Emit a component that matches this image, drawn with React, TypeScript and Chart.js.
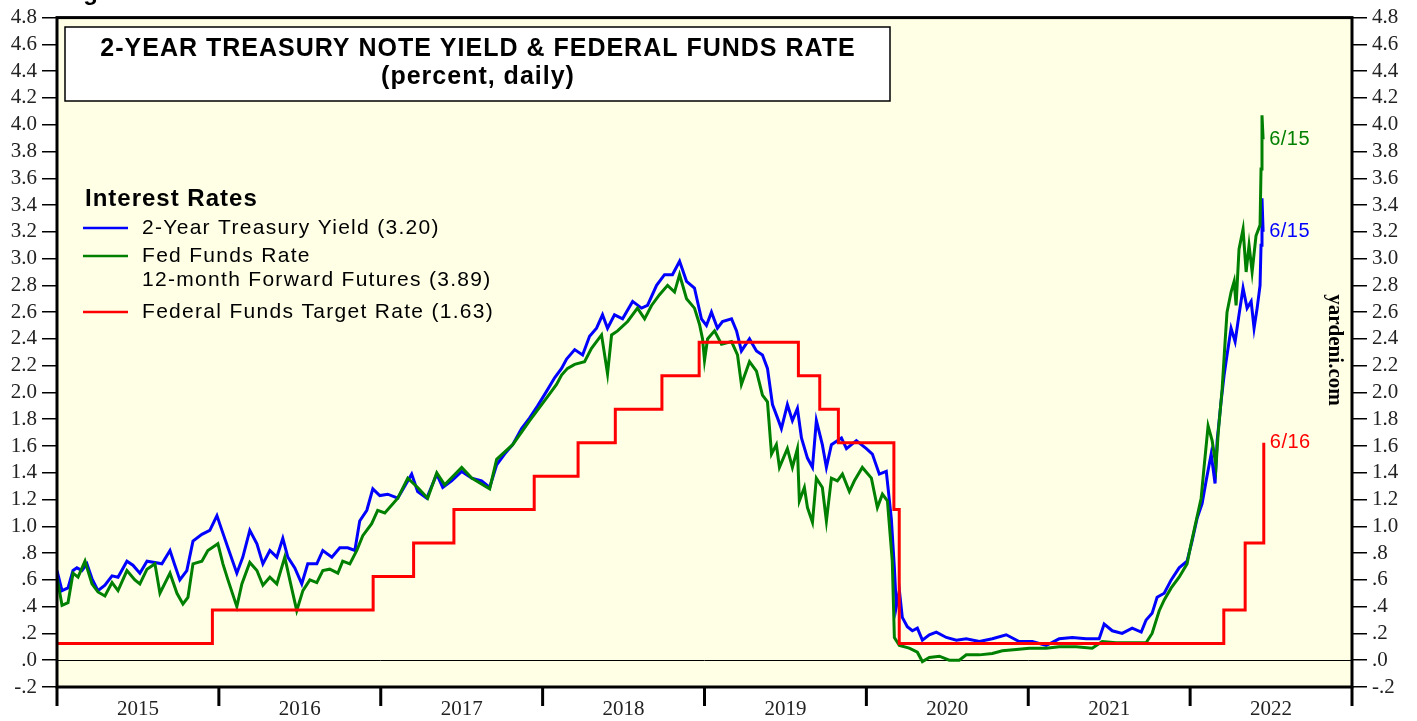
import React, { useEffect, useRef } from "react";
import { Chart, registerables } from "chart.js";

Chart.register(...registerables);

// ---------- DATA ----------
const yearLabels = ["2015", "2016", "2017", "2018", "2019", "2020", "2021", "2022"];
const yTickValues = [-0.2, 0, 0.2, 0.4, 0.6, 0.8, 1.0, 1.2, 1.4, 1.6, 1.8, 2.0, 2.2, 2.4, 2.6, 2.8, 3.0, 3.2, 3.4, 3.6, 3.8, 4.0, 4.2, 4.4, 4.6, 4.8];
const yTickLabels = ["-.2", ".0", ".2", ".4", ".6", ".8", "1.0", "1.2", "1.4", "1.6", "1.8", "2.0", "2.2", "2.4", "2.6", "2.8", "3.0", "3.2", "3.4", "3.6", "3.8", "4.0", "4.2", "4.4", "4.6", "4.8"];

// 2-Year Treasury Yield (decimal year, percent)
const ustDates = [
  2015.000, 2015.031, 2015.068, 2015.099, 2015.123, 2015.154, 2015.185, 2015.216, 2015.253, 2015.296,
  2015.340, 2015.377, 2015.432, 2015.469, 2015.512, 2015.556, 2015.605, 2015.648, 2015.698, 2015.728,
  2015.759, 2015.802, 2015.840, 2015.895, 2015.944, 2015.988, 2016.019, 2016.056, 2016.111, 2016.148,
  2016.191, 2016.235, 2016.272, 2016.315, 2016.358, 2016.395, 2016.426, 2016.469, 2016.512, 2016.549,
  2016.605, 2016.642, 2016.698, 2016.747, 2016.796, 2016.840, 2016.870, 2016.914, 2016.951, 2016.994,
  2017.043, 2017.105, 2017.191, 2017.228, 2017.284, 2017.346, 2017.383, 2017.438, 2017.500, 2017.562,
  2017.623, 2017.673, 2017.716, 2017.765, 2017.815, 2017.870, 2017.920, 2017.969, 2018.025, 2018.074,
  2018.117, 2018.148, 2018.198, 2018.247, 2018.290, 2018.333, 2018.370, 2018.401, 2018.444, 2018.494,
  2018.556, 2018.611, 2018.648, 2018.704, 2018.753, 2018.802, 2018.846, 2018.889, 2018.938, 2018.981,
  2019.012, 2019.043, 2019.080, 2019.111, 2019.167, 2019.198, 2019.228, 2019.278, 2019.321, 2019.358,
  2019.389, 2019.420, 2019.451, 2019.475, 2019.512, 2019.543, 2019.574, 2019.599, 2019.636, 2019.667,
  2019.691, 2019.728, 2019.753, 2019.784, 2019.846, 2019.877, 2019.938, 2020.000, 2020.037, 2020.080,
  2020.123, 2020.154, 2020.173, 2020.185, 2020.204, 2020.222, 2020.253, 2020.284, 2020.315, 2020.346,
  2020.389, 2020.432, 2020.494, 2020.556, 2020.617, 2020.698, 2020.778, 2020.864, 2020.944, 2021.025,
  2021.111, 2021.191, 2021.272, 2021.358, 2021.438, 2021.469, 2021.519, 2021.580, 2021.642, 2021.698,
  2021.728, 2021.765, 2021.796, 2021.840, 2021.883, 2021.932, 2021.981, 2022.012, 2022.043, 2022.074,
  2022.099, 2022.130, 2022.154, 2022.167, 2022.191, 2022.210, 2022.228, 2022.253, 2022.278, 2022.302,
  2022.327, 2022.352, 2022.377, 2022.395, 2022.414, 2022.432, 2022.438, 2022.444, 2022.451,
];
const ustValues = [
  0.67, 0.52, 0.54, 0.67, 0.69, 0.67, 0.72, 0.61, 0.52, 0.56,
  0.63, 0.62, 0.74, 0.71, 0.65, 0.74, 0.73, 0.72, 0.82, 0.71,
  0.60, 0.67, 0.89, 0.94, 0.97, 1.08, 0.97, 0.84, 0.65, 0.77,
  0.97, 0.87, 0.72, 0.82, 0.77, 0.91, 0.77, 0.69, 0.57, 0.72,
  0.72, 0.82, 0.77, 0.84, 0.84, 0.82, 1.04, 1.12, 1.28, 1.23,
  1.24, 1.21, 1.39, 1.26, 1.21, 1.39, 1.29, 1.34, 1.41, 1.36,
  1.34, 1.29, 1.46, 1.54, 1.61, 1.73, 1.81, 1.90, 2.01, 2.11,
  2.18, 2.25, 2.32, 2.28, 2.42, 2.48, 2.58, 2.48, 2.58, 2.55,
  2.68, 2.63, 2.65, 2.80, 2.88, 2.88, 2.98, 2.83, 2.78, 2.55,
  2.50, 2.60, 2.48, 2.53, 2.55, 2.46, 2.31, 2.40, 2.31, 2.28,
  2.18, 1.91, 1.81, 1.73, 1.91, 1.79, 1.88, 1.66, 1.51, 1.44,
  1.79, 1.61, 1.44, 1.61, 1.66, 1.58, 1.64, 1.58, 1.54, 1.39,
  1.41, 1.06, 0.69, 0.40, 0.52, 0.32, 0.25, 0.22, 0.24, 0.15,
  0.19, 0.21, 0.17, 0.15, 0.16, 0.14, 0.16, 0.19, 0.14, 0.14,
  0.11, 0.16, 0.17, 0.16, 0.16, 0.27, 0.22, 0.20, 0.24, 0.21,
  0.30, 0.35, 0.47, 0.50, 0.60, 0.69, 0.74, 0.89, 1.06, 1.17,
  1.34, 1.54, 1.32, 1.64, 1.93, 2.13, 2.28, 2.48, 2.38, 2.58,
  2.78, 2.63, 2.68, 2.48, 2.63, 2.80, 3.10, 3.45, 3.20,
];

// Fed Funds Rate 12-month forward futures
const futDates = [
  2015.000, 2015.031, 2015.068, 2015.099, 2015.130, 2015.173, 2015.216, 2015.253, 2015.296, 2015.340,
  2015.377, 2015.432, 2015.481, 2015.512, 2015.556, 2015.605, 2015.636, 2015.698, 2015.741, 2015.778,
  2015.809, 2015.840, 2015.895, 2015.932, 2015.994, 2016.025, 2016.056, 2016.111, 2016.142, 2016.191,
  2016.235, 2016.272, 2016.315, 2016.358, 2016.407, 2016.438, 2016.481, 2016.519, 2016.562, 2016.605,
  2016.642, 2016.685, 2016.735, 2016.765, 2016.809, 2016.852, 2016.889, 2016.944, 2016.981, 2017.025,
  2017.105, 2017.167, 2017.228, 2017.290, 2017.346, 2017.395, 2017.500, 2017.562, 2017.673, 2017.716,
  2017.815, 2017.920, 2018.025, 2018.086, 2018.117, 2018.154, 2018.198, 2018.259, 2018.302, 2018.364,
  2018.401, 2018.426, 2018.463, 2018.525, 2018.586, 2018.630, 2018.673, 2018.722, 2018.772, 2018.815,
  2018.846, 2018.889, 2018.938, 2018.969, 2018.988, 2019.000, 2019.019, 2019.062, 2019.105, 2019.167,
  2019.204, 2019.228, 2019.278, 2019.321, 2019.358, 2019.389, 2019.414, 2019.444, 2019.463, 2019.512,
  2019.543, 2019.574, 2019.586, 2019.617, 2019.636, 2019.667, 2019.691, 2019.728, 2019.753, 2019.784,
  2019.821, 2019.852, 2019.895, 2019.926, 2019.975, 2020.031, 2020.068, 2020.099, 2020.130, 2020.160,
  2020.173, 2020.204, 2020.265, 2020.315, 2020.346, 2020.389, 2020.451, 2020.512, 2020.574, 2020.617,
  2020.698, 2020.778, 2020.840, 2020.926, 2021.006, 2021.111, 2021.191, 2021.296, 2021.395, 2021.457,
  2021.543, 2021.642, 2021.728, 2021.765, 2021.809, 2021.840, 2021.883, 2021.932, 2021.981, 2022.006,
  2022.037, 2022.068, 2022.086, 2022.111, 2022.136, 2022.160, 2022.173, 2022.198, 2022.216, 2022.228,
  2022.253, 2022.272, 2022.284, 2022.302, 2022.327, 2022.346, 2022.364, 2022.383, 2022.407, 2022.432,
  2022.438, 2022.444, 2022.451,
];
const futValues = [
  0.62, 0.41, 0.43, 0.65, 0.62, 0.74, 0.57, 0.51, 0.48, 0.58,
  0.52, 0.67, 0.60, 0.57, 0.68, 0.72, 0.50, 0.65, 0.50, 0.42,
  0.47, 0.72, 0.74, 0.82, 0.87, 0.72, 0.60, 0.40, 0.57, 0.73,
  0.67, 0.56, 0.62, 0.57, 0.77, 0.60, 0.37, 0.52, 0.60, 0.58,
  0.67, 0.68, 0.65, 0.74, 0.72, 0.82, 0.93, 1.02, 1.12, 1.10,
  1.21, 1.36, 1.29, 1.21, 1.40, 1.31, 1.44, 1.36, 1.28, 1.50,
  1.61, 1.79, 1.96, 2.06, 2.13, 2.18, 2.21, 2.23, 2.33, 2.43,
  2.14, 2.43, 2.46, 2.53, 2.63, 2.55, 2.65, 2.73, 2.80, 2.75,
  2.88, 2.70, 2.63, 2.51, 2.40, 2.24, 2.40, 2.46, 2.36, 2.38,
  2.28, 2.06, 2.23, 2.16, 1.98, 1.93, 1.54, 1.61, 1.44, 1.58,
  1.44, 1.58, 1.19, 1.29, 1.14, 1.03, 1.36, 1.29, 1.04, 1.36,
  1.34, 1.39, 1.26, 1.34, 1.44, 1.36, 1.14, 1.24, 1.19, 0.74,
  0.17, 0.11, 0.09, 0.06, -0.01, 0.02, 0.03, 0.00, 0.00, 0.04,
  0.04, 0.05, 0.07, 0.08, 0.09, 0.09, 0.10, 0.10, 0.09, 0.14,
  0.13, 0.13, 0.13, 0.20, 0.37, 0.45, 0.54, 0.62, 0.72, 0.87,
  1.04, 1.21, 1.44, 1.75, 1.64, 1.45, 1.69, 2.03, 2.38, 2.60,
  2.75, 2.83, 2.65, 3.07, 3.22, 2.90, 3.10, 2.90, 3.17, 3.25,
  3.67, 4.07, 3.89,
];

// Federal Funds Target Rate (midpoint), at each change date
const fedDates = [2015.000, 2015.960, 2016.953, 2017.203, 2017.452, 2017.948, 2018.219, 2018.449, 2018.737, 2018.967, 2019.580, 2019.712, 2019.827, 2020.170, 2020.203, 2022.208, 2022.340, 2022.455];
const fedValues = [0.125, 0.375, 0.625, 0.875, 1.125, 1.375, 1.625, 1.875, 2.125, 2.375, 2.125, 1.875, 1.625, 1.125, 0.125, 0.375, 0.875, 1.625];

const legendTitle = "Interest Rates";
const legendItems = [
  { lines: ["2-Year Treasury Yield (3.20)"], color: "#0000FF" },
  { lines: ["Fed Funds Rate", "12-month Forward Futures (3.89)"], color: "#008000" },
  { lines: ["Federal Funds Target Rate (1.63)"], color: "#FF0000" },
];
const endLabels = [
  { text: "6/15", color: "#008000", series: "fut" },
  { text: "6/15", color: "#0000FF", series: "ust" },
  { text: "6/16", color: "#FF0000", series: "fed" },
];

const BG = "#FFFFE6";
const SERIF = "'Liberation Serif', 'Times New Roman', serif";
const SANS = "'Liberation Sans', Arial, sans-serif";

const pts = (d: number[], v: number[]) => d.map((t, i) => ({ x: t, y: v[i] }));

const decor = {
  id: "decor",
  beforeDraw(chart: any) {
    const { ctx, chartArea: a } = chart;
    ctx.save();
    ctx.fillStyle = "#FFFFFF";
    ctx.fillRect(0, 0, chart.width, chart.height);
    ctx.fillStyle = BG;
    ctx.fillRect(a.left, a.top, a.right - a.left, a.bottom - a.top);
    ctx.restore();
  },
  beforeDatasetsDraw(chart: any) {
    const { ctx, chartArea: a, scales } = chart;
    const y0 = Math.round(scales.y.getPixelForValue(0)) + 0.5;
    ctx.save();
    ctx.strokeStyle = "#000";
    ctx.lineWidth = 1;
    ctx.beginPath();
    ctx.moveTo(a.left, y0);
    ctx.lineTo(a.right, y0);
    ctx.stroke();
    ctx.restore();
  },
  afterDraw(chart: any) {
    const { ctx, chartArea: a, scales } = chart;
    ctx.save();
    // frame
    ctx.strokeStyle = "#000";
    ctx.lineWidth = 3;
    ctx.strokeRect(a.left, a.top, a.right - a.left, a.bottom - a.top);
    // year boundary ticks
    ctx.lineWidth = 3;
    for (let yr = 2015; yr <= 2023; yr++) {
      const x = scales.x.getPixelForValue(yr);
      ctx.beginPath();
      ctx.moveTo(x, a.bottom);
      ctx.lineTo(x, a.bottom + 19);
      ctx.stroke();
    }
    // cut-off header text
    ctx.fillStyle = "#000";
    ctx.font = `bold 24px ${SANS}`;
    ctx.textAlign = "left";
    ctx.textBaseline = "alphabetic";
    ctx.fillText("Figure", 62, 0);

    // title box
    ctx.fillStyle = "#FFFFFF";
    ctx.fillRect(65, 27, 825, 74);
    ctx.lineWidth = 1.5;
    ctx.strokeRect(65, 27, 825, 74);
    ctx.fillStyle = "#000";
    ctx.font = `bold 25px ${SANS}`;
    (ctx as any).letterSpacing = "1px";
    ctx.textAlign = "center";
    ctx.textBaseline = "middle";
    ctx.fillText("2-YEAR TREASURY NOTE YIELD & FEDERAL FUNDS RATE", 478, 49);
    ctx.fillText("(percent, daily)", 478, 77);

    // legend
    ctx.textAlign = "left";
    ctx.font = `bold 24px ${SANS}`;
    ctx.fillText(legendTitle, 85, 199);
    ctx.font = `21px ${SANS}`;
    (ctx as any).letterSpacing = "1.3px";
    const rowY = [228, 256, 312];
    legendItems.forEach((it, i) => {
      const y = rowY[i];
      ctx.strokeStyle = it.color;
      ctx.lineWidth = 2.5;
      ctx.beginPath();
      ctx.moveTo(83, y);
      ctx.lineTo(128, y);
      ctx.stroke();
      ctx.fillStyle = "#000";
      it.lines.forEach((ln, j) => ctx.fillText(ln, 142, y + j * 24));
    });

    // end labels
    (ctx as any).letterSpacing = "0.5px";
    ctx.font = `20px ${SANS}`;
    const lastOf = { ust: ustValues, fut: futValues, fed: fedValues } as any;
    const lastDate = { ust: ustDates, fut: futDates, fed: fedDates } as any;
    endLabels.forEach((l) => {
      const vals = lastOf[l.series];
      const ds = lastDate[l.series];
      const x = scales.x.getPixelForValue(ds[ds.length - 1]) + 6;
      const y = scales.y.getPixelForValue(vals[vals.length - 1]);
      ctx.fillStyle = l.color;
      ctx.fillText(l.text, x, y);
    });

    // yardeni.com
    (ctx as any).letterSpacing = "0px";
    ctx.translate(1334, 350);
    ctx.rotate(Math.PI / 2);
    ctx.fillStyle = "#000";
    ctx.font = `bold 21px ${SERIF}`;
    ctx.textAlign = "center";
    ctx.textBaseline = "middle";
    ctx.fillText("yardeni.com", 0, 0);
    ctx.restore();
  },
};

const yTickFmt = (v: any) => {
  const i = yTickValues.findIndex((t) => Math.abs(t - v) < 1e-6);
  return i >= 0 ? yTickLabels[i] : "";
};

export default function App() {
  const ref = useRef<HTMLCanvasElement | null>(null);
  useEffect(() => {
    if (!ref.current) return;
    const yAxis = (position: "left" | "right", width: number) => ({
      type: "linear" as const,
      position,
      min: -0.2,
      max: 4.8,
      afterBuildTicks: (s: any) => {
        s.ticks = yTickValues.map((v) => ({ value: v }));
      },
      afterFit: (s: any) => {
        s.width = width;
      },
      ticks: {
        callback: yTickFmt,
        color: "#222",
        font: { family: SERIF, size: 21 },
        padding: 5,
        autoSkip: false,
      },
      grid: { drawOnChartArea: false, drawTicks: true, tickLength: 15, tickColor: "#000", lineWidth: 1.5 },
      border: { display: false },
    });
    const chart = new Chart(ref.current, {
      type: "line",
      data: {
        datasets: [
          { label: "Federal Funds Target Rate", data: pts(fedDates, fedValues), borderColor: "#FF0000", borderWidth: 3, pointRadius: 0, stepped: true, order: 0 },
          { label: "Fed Funds Rate 12-month Forward Futures", data: pts(futDates, futValues), borderColor: "#008000", borderWidth: 3, pointRadius: 0, tension: 0, order: 1 },
          { label: "2-Year Treasury Yield", data: pts(ustDates, ustValues), borderColor: "#0000FF", borderWidth: 3, pointRadius: 0, tension: 0, order: 2 },
        ],
      },
      options: {
        responsive: false,
        animation: false,
        devicePixelRatio: 1,
        layout: { padding: { top: 15, left: 0, right: 0, bottom: 0 } },
        plugins: { legend: { display: false }, tooltip: { enabled: false } },
        scales: {
          x: {
            type: "linear",
            min: 2015,
            max: 2023,
            afterBuildTicks: (s: any) => {
              s.ticks = yearLabels.map((_, i) => ({ value: 2015.5 + i }));
            },
            afterFit: (s: any) => {
              s.height = 34;
            },
            ticks: {
              callback: (v: any) => yearLabels[Math.round(Number(v) - 2015.5)] ?? "",
              color: "#222",
              font: { family: SERIF, size: 21 },
              padding: 10,
              maxRotation: 0,
              autoSkip: false,
            },
            grid: { display: false, drawTicks: false },
            border: { display: false },
          },
          y: yAxis("left", 57),
          y2: yAxis("right", 65),
        },
      } as any,
      plugins: [decor],
    });
    return () => chart.destroy();
  }, []);
  return (
    <div style={{ position: "absolute", left: 0, top: 0, width: 1417, height: 721 }}>
      <canvas ref={ref} width={1417} height={721} />
    </div>
  );
}
